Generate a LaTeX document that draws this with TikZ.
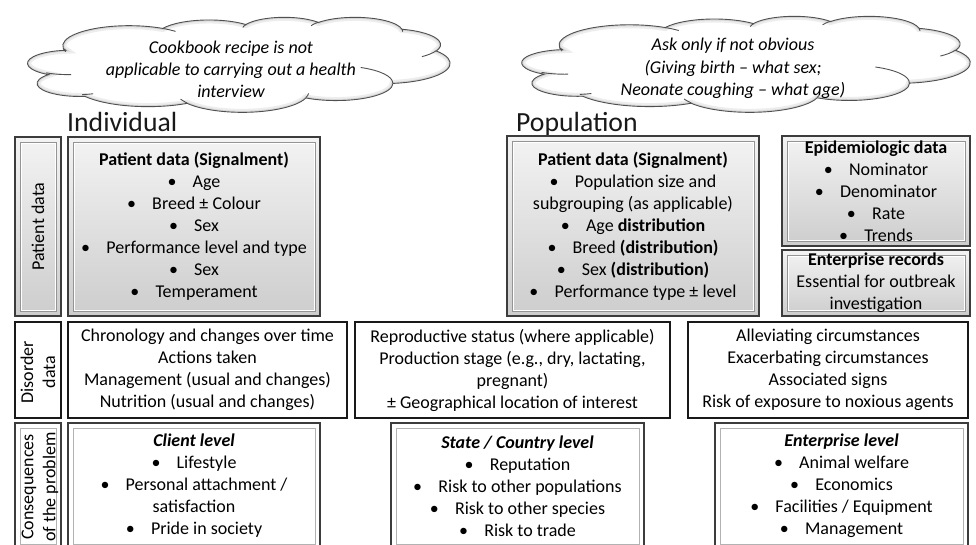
\documentclass[tikz,border=0pt]{standalone}
\usepackage{fontspec}
\setmainfont{Carlito}

\definecolor{boxedge}{HTML}{3C3C3C}
\definecolor{boxtop}{HTML}{F3F3F3}
\definecolor{boxbot}{HTML}{CDCDCD}
\definecolor{cloudline}{HTML}{505050}

\newcommand\bul{\textbullet\hspace{0.9em}}

% elliptical arc given by a visual start angle and sweep (y pointing down)
% -> parametric angles on the canvas (y pointing up)
\newcommand\cloudang[5]{%
  \pgfmathsetmacro\cldtmpS{atan2((#2)*sin(#4),(#3)*cos(#4))}%
  \pgfmathsetmacro\cldtmpE{atan2((#2)*sin((#4)+(#5)),(#3)*cos((#4)+(#5)))}%
  \pgfmathsetmacro\cldtmpE{\cldtmpE+360*((#5)>0)*((\cldtmpE)<(\cldtmpS))-360*((#5)<0)*((\cldtmpE)>(\cldtmpS))}%
  \pgfmathsetmacro\cldtmpS{-(\cldtmpS)}%
  \pgfmathsetmacro\cldtmpE{-(\cldtmpE)}%
  \expandafter\xdef\csname cldS#1\endcsname{\cldtmpS}%
  \expandafter\xdef\csname cldE#1\endcsname{\cldtmpE}%
}
% outline lobes
\cloudang{a}{67.53}{91.90}{-190.487}{123.781}
\cloudang{b}{53.33}{72.67}{-144.102}{89.945}
\cloudang{c}{43.65}{59.45}{-145.808}{99.723}
\cloudang{d}{48.57}{65.95}{-130.986}{117.242}
\cloudang{e}{53.33}{72.73}{-78.709}{109.027}
\cloudang{f}{67.75}{92.20}{-46.267}{130.269}
\cloudang{g}{57.85}{78.67}{0.625}{114.033}
\cloudang{h}{67.52}{92.15}{22.452}{115.173}
\cloudang{i}{77.20}{105.43}{66.243}{71.253}
\cloudang{j}{43.60}{59.18}{-274.942}{146.736}
\cloudang{k}{43.45}{59.45}{-246.829}{152.519}
% inner creases
\cloudang{l}{43.45}{59.45}{86.742}{26.430}
\cloudang{m}{43.60}{59.18}{73.610}{11.447}
\cloudang{n}{67.52}{92.15}{137.624}{14.081}
\cloudang{o}{67.52}{92.15}{6.453}{15.998}
\cloudang{p}{57.85}{78.67}{-70.292}{70.917}
\cloudang{q}{53.33}{72.73}{30.318}{27.752}
\cloudang{r}{48.57}{65.95}{-13.744}{14.859}
\cloudang{s}{48.57}{65.95}{-149.181}{18.195}
\cloudang{t}{43.65}{59.45}{-163.494}{17.686}
\cloudang{u}{67.53}{91.90}{-66.707}{12.319}
\cloudang{v}{67.53}{91.90}{157.654}{11.858}

% radii are turned into canvas lengths with the cloud's own scale \cldsx, \cldsy
\def\cloudoutline{(39,143.70)
 arc[start angle=\cldSa,end angle=\cldEa,x radius=67.53*\cldsx pt,y radius=91.90*\cldsy pt]
 arc[start angle=\cldSb,end angle=\cldEb,x radius=53.33*\cldsx pt,y radius=72.67*\cldsy pt]
 arc[start angle=\cldSc,end angle=\cldEc,x radius=43.65*\cldsx pt,y radius=59.45*\cldsy pt]
 arc[start angle=\cldSd,end angle=\cldEd,x radius=48.57*\cldsx pt,y radius=65.95*\cldsy pt]
 arc[start angle=\cldSe,end angle=\cldEe,x radius=53.33*\cldsx pt,y radius=72.73*\cldsy pt]
 arc[start angle=\cldSf,end angle=\cldEf,x radius=67.75*\cldsx pt,y radius=92.20*\cldsy pt]
 arc[start angle=\cldSg,end angle=\cldEg,x radius=57.85*\cldsx pt,y radius=78.67*\cldsy pt]
 arc[start angle=\cldSh,end angle=\cldEh,x radius=67.52*\cldsx pt,y radius=92.15*\cldsy pt]
 arc[start angle=\cldSi,end angle=\cldEi,x radius=77.20*\cldsx pt,y radius=105.43*\cldsy pt]
 arc[start angle=\cldSj,end angle=\cldEj,x radius=43.60*\cldsx pt,y radius=59.18*\cldsy pt]
 arc[start angle=\cldSk,end angle=\cldEk,x radius=43.45*\cldsx pt,y radius=59.45*\cldsy pt]
 -- cycle}
\def\cloudcreases{
 (46.93,261.77) arc[start angle=\cldSl,end angle=\cldEl,x radius=43.45*\cldsx pt,y radius=59.45*\cldsy pt]
 (69.28,348.99) arc[start angle=\cldSm,end angle=\cldEm,x radius=43.60*\cldsx pt,y radius=59.18*\cldsy pt]
 (164.78,390.90) arc[start angle=\cldSn,end angle=\cldEn,x radius=67.52*\cldsx pt,y radius=92.15*\cldsy pt]
 (288.27,347.51) arc[start angle=\cldSo,end angle=\cldEo,x radius=67.52*\cldsx pt,y radius=92.15*\cldsy pt]
 (341.29,229.54) arc[start angle=\cldSp,end angle=\cldEp,x radius=57.85*\cldsx pt,y radius=78.67*\cldsy pt]
 (417.98,153.54) arc[start angle=\cldSq,end angle=\cldEq,x radius=53.33*\cldsx pt,y radius=72.73*\cldsy pt]
 (383.24,54.26) arc[start angle=\cldSr,end angle=\cldEr,x radius=48.57*\cldsx pt,y radius=65.95*\cldsy pt]
 (290.78,39.52) arc[start angle=\cldSs,end angle=\cldEs,x radius=48.57*\cldsx pt,y radius=65.95*\cldsy pt]
 (221.41,47.20) arc[start angle=\cldSt,end angle=\cldEt,x radius=43.65*\cldsx pt,y radius=59.45*\cldsy pt]
 (140.00,51.92) arc[start angle=\cldSu,end angle=\cldEu,x radius=67.53*\cldsx pt,y radius=91.90*\cldsy pt]
 (41.27,157.89) arc[start angle=\cldSv,end angle=\cldEv,x radius=67.53*\cldsx pt,y radius=91.90*\cldsy pt]}

\newcommand\drawcloud{%
  \fill[white] \cloudoutline;
  \begin{scope}
    \clip \cloudoutline;
    \draw[line width=7pt, black!7] \cloudoutline;
    \draw[line width=3pt, black!16] \cloudoutline;
  \end{scope}
  \draw[cloudline, line width=0.9pt] \cloudoutline;
  \draw[cloudline, line width=0.9pt] \cloudcreases;
}

\tikzset{
  txt/.style={font=\fontsize{18}{22}\selectfont, align=center, inner sep=0pt, text=black},
  cloudtxt/.style={font=\fontsize{18}{22.3}\selectfont\itshape, align=center, inner sep=0pt},
  heading/.style={font=\fontsize{27.7}{33}\selectfont, inner sep=0pt, anchor=base west, text=black!90},
  bevelbox/.style={rectangle, draw=boxedge, line width=1.5pt, top color=boxtop,
    bottom color=boxbot, inner sep=0pt, txt,
    path picture={
      \draw[black!42, line width=0.7pt]
        ([xshift=5pt,yshift=-5pt]path picture bounding box.north west) rectangle
        ([xshift=-5pt,yshift=5pt]path picture bounding box.south east);
      \draw[white, line width=0.7pt]
        ([xshift=6pt,yshift=-6pt]path picture bounding box.north west) rectangle
        ([xshift=-6pt,yshift=6pt]path picture bounding box.south east);}},
  plainbox/.style={rectangle, draw=black!90, line width=1.5pt, fill=white, inner sep=0pt, txt},
  framebox/.style={rectangle, draw=boxedge, line width=1.5pt, fill=white, inner sep=0pt, txt,
    path picture={
      \draw[black!30, line width=0.8pt]
        ([xshift=5pt,yshift=-5pt]path picture bounding box.north west) rectangle
        ([xshift=-5pt,yshift=5pt]path picture bounding box.south east);}},
}

\begin{document}
\begin{tikzpicture}[x=1pt, y=-1pt]
\useasboundingbox (0,0) rectangle (976,544);
\fill[white] (0,0) rectangle (976,544);
\clip (0,0) rectangle (976,544);

% thought clouds
\def\cldsx{0.9837}\def\cldsy{0.2199}
\begin{scope}[shift={(25,17)}, x=\cldsx pt, y=-\cldsy pt]
  \drawcloud
\end{scope}
\def\cldsx{1.0442}\def\cldsy{0.2222}
\begin{scope}[shift={(519,16)}, x=\cldsx pt, y=-\cldsy pt]
  \drawcloud
\end{scope}
\node[cloudtxt] (cloudL) at (231,69.5) {Cookbook recipe is not\\applicable to carrying out a health\\interview};
\node[cloudtxt] (cloudR) at (733,68.5) {Ask only if not obvious\\(Giving birth – what sex;\\Neonate coughing – what age)};

% column headings
\node[heading] (hInd) at (67,131) {Individual};
\node[heading] (hPop) at (516,131) {Population};

% row 1: patient data
\node[bevelbox, minimum width=46pt, minimum height=179pt] (labPat) at (38,226.5) {};
\node[txt, rotate=90] (labPatT) at (labPat.center) {Patient data};

\node[bevelbox, minimum width=252pt, minimum height=179pt] (indPat) at (194,226.5)
  {\textbf{Patient data (Signalment)}\\ \bul Age\\ \bul Breed ± Colour\\ \bul Sex\\
   \bul Performance level and type\\ \bul Sex\\ \bul Temperament};

\node[bevelbox, minimum width=252pt, minimum height=180pt] (popPat) at (633,226)
  {\textbf{Patient data (Signalment)}\\ \bul Population size and\\ subgrouping (as applicable)\\
   \bul Age \textbf{distribution}\\ \bul Breed \textbf{(distribution)}\\
   \bul Sex \textbf{(distribution)}\\ \bul Performance type ± level};

\node[bevelbox, minimum width=188pt, minimum height=110pt] (epi) at (876,191)
  {\textbf{Epidemiologic data}\\ \bul Nominator\\ \bul Denominator\\ \bul Rate\\ \bul Trends};

\node[bevelbox, minimum width=188pt, minimum height=66pt] (ent) at (876,283)
  {\textbf{Enterprise records}\\ Essential for outbreak\\ investigation};

% row 2: disorder data
\node[plainbox, minimum width=46pt, minimum height=96pt] (labDis) at (38,370) {};
\node[txt, rotate=90] (labDisT) at (38,372) {Disorder\\data};

\node[plainbox, minimum width=279pt, minimum height=96pt] (indDis) at (207.5,370)
  {Chronology and changes over time\\ Actions taken\\ Management (usual and changes)\\
   Nutrition (usual and changes)};

\node[plainbox, minimum width=315pt, minimum height=96pt] (popDis) at (512.5,370)
  {Reproductive status (where applicable)\\ Production stage (e.g., dry, lactating,\\
   pregnant)\\ ± Geographical location of interest};

\node[plainbox, minimum width=280pt, minimum height=96pt] (extDis) at (828,370)
  {Alleviating circumstances\\ Exacerbating circumstances\\ Associated signs\\
   Risk of exposure to noxious agents};

% row 3: consequences of the problem
\node[framebox, minimum width=46pt, minimum height=126pt] (labCon) at (38,486) {};
\node[txt, rotate=90] (labConT) at (40,487) {Consequences\\of the problem};

\node[framebox, minimum width=252pt, minimum height=126pt] (indCon) at (194,486)
  {\textbf{\textit{Client level}}\\ \bul Lifestyle\\ \bul Personal attachment /\\
   satisfaction\\ \bul Pride in society};

\node[framebox, minimum width=253pt, minimum height=126pt] (popCon) at (517.5,486)
  {\textbf{\textit{State / Country level}}\\ \bul Reputation\\ \bul Risk to other populations\\
   \bul Risk to other species\\ \bul Risk to trade};

\node[framebox, minimum width=253pt, minimum height=126pt] (extCon) at (841.5,486)
  {\textbf{\textit{Enterprise level}}\\ \bul Animal welfare\\ \bul Economics\\
   \bul Facilities / Equipment\\ \bul Management};
\end{tikzpicture}
\end{document}
